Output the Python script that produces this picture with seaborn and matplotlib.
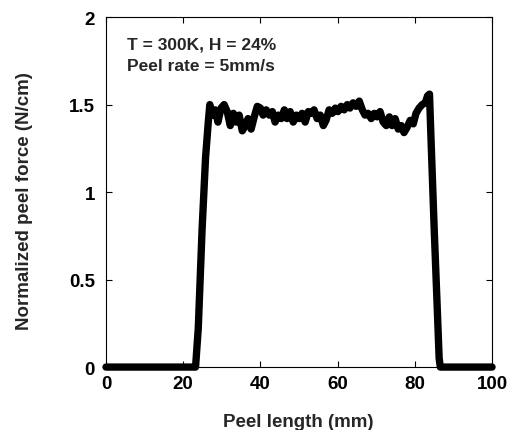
import matplotlib
matplotlib.use("Agg")
import matplotlib.pyplot as plt
import seaborn as sns
import pandas as pd

peel_length_mm = [0.0, 5.0, 10.0, 15.0, 20.0, 23.2, 23.9, 24.9, 25.8, 26.5, 26.9,
                  27.5, 28.3, 29.0, 29.8, 30.6, 31.4, 32.2, 33.0, 33.7, 34.5,
                  35.3, 36.1, 36.8, 37.6, 38.4, 39.2, 40.0, 40.7, 41.5, 42.3,
                  43.1, 43.8, 44.6, 45.4, 46.2, 46.9, 47.7, 48.5, 49.3, 50.1,
                  50.8, 51.6, 52.4, 53.2, 53.9, 54.7, 55.5, 56.3, 57.0, 57.8,
                  58.6, 59.4, 60.1, 60.9, 61.7, 62.5, 63.2, 64.0, 64.8, 65.6,
                  66.4, 67.1, 67.9, 68.7, 69.5, 70.2, 71.0, 71.8, 72.6, 73.4,
                  74.1, 74.9, 75.7, 76.5, 77.2, 78.0, 78.8, 79.6, 80.3, 81.1,
                  81.9, 82.7, 83.3, 83.8, 84.2, 85.0, 85.7, 86.3, 86.6, 90.0,
                  95.0, 100.0]
peel_force = [0.0, 0.0, 0.0, 0.0, 0.0, 0.0, 0.22, 0.79, 1.20, 1.40, 1.50,
              1.44, 1.47, 1.40, 1.48, 1.50, 1.46, 1.38, 1.45, 1.40, 1.44,
              1.35, 1.38, 1.42, 1.36, 1.43, 1.49, 1.48, 1.44, 1.47, 1.44,
              1.46, 1.40, 1.44, 1.42, 1.47, 1.42, 1.46, 1.40, 1.44, 1.42,
              1.45, 1.40, 1.46, 1.45, 1.47, 1.42, 1.44, 1.38, 1.41, 1.47,
              1.45, 1.48, 1.46, 1.49, 1.47, 1.50, 1.48, 1.51, 1.49, 1.52,
              1.47, 1.44, 1.45, 1.42, 1.45, 1.43, 1.46, 1.40, 1.38, 1.43,
              1.38, 1.42, 1.36, 1.38, 1.34, 1.37, 1.41, 1.39, 1.45, 1.48,
              1.50, 1.51, 1.55, 1.56, 1.30, 0.80, 0.40, 0.05, 0.0, 0.0,
              0.0, 0.0]

x_ticks = [0, 20, 40, 60, 80, 100]
y_ticks = [0, 0.5, 1, 1.5, 2]
y_tick_labels = ["0", "0.5", "1", "1.5", "2"]

df = pd.DataFrame({"Peel length (mm)": peel_length_mm,
                   "Normalized peel force (N/cm)": peel_force})

sns.set_style("ticks")
plt.rcParams["font.family"] = ["Liberation Sans", "DejaVu Sans"]
plt.rcParams["font.weight"] = "bold"

fig = plt.figure(figsize=(5.12, 4.31), dpi=100)
ax = fig.add_axes([0.207, 0.146, 0.754, 0.812])

sns.lineplot(data=df, x="Peel length (mm)", y="Normalized peel force (N/cm)",
             ax=ax, color="black", linewidth=5.3, sort=False,
             solid_capstyle="round", solid_joinstyle="round")
for ln in ax.lines:
    ln.set_clip_on(False)
    ln.set_zorder(5)

ax.set_xlim(0, 100)
ax.set_ylim(0, 2)
ax.set_xticks(x_ticks)
ax.set_xticklabels([str(t) for t in x_ticks])
ax.set_yticks(y_ticks)
ax.set_yticklabels(y_tick_labels)
ax.tick_params(direction="in", length=4, width=0.8, top=True, right=True,
               labelsize=13.5, colors="black")
ax.tick_params(axis="y", pad=8)
ax.tick_params(axis="x", pad=6)
for lab in ax.get_xticklabels() + ax.get_yticklabels():
    lab.set_fontweight("bold")
for s in ax.spines.values():
    s.set_visible(True)
    s.set_linewidth(0.8)
    s.set_color("black")

ax.set_xlabel("Peel length (mm)", fontsize=13.5, fontweight="bold")
ax.set_ylabel("Normalized peel force (N/cm)", fontsize=13.5, fontweight="bold")
ax.xaxis.set_label_coords(0.497, -0.132)
ax.yaxis.set_label_coords(-0.19, 0.477)

ax.text(0.054, 0.944, "T = 300K, H = 24%\nPeel rate = 5mm/s", transform=ax.transAxes,
        fontsize=12.5, fontweight="bold", va="top", ha="left", linespacing=1.55)

fig.savefig("out.png", dpi=100)
